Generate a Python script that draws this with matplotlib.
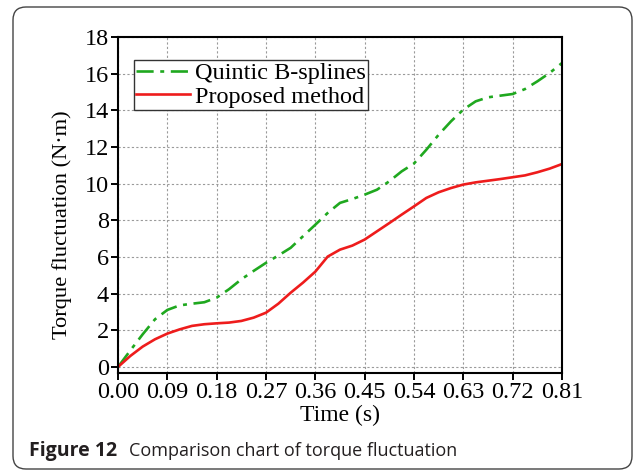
import matplotlib
matplotlib.use('Agg')
import matplotlib.pyplot as plt
from matplotlib.patches import FancyBboxPatch

# values (every 0.0225 s)
time = [0, 0.0225, 0.045, 0.0675, 0.09, 0.1125, 0.135, 0.1575, 0.18, 0.2025,
        0.225, 0.2475, 0.27, 0.2925, 0.315, 0.3375, 0.36, 0.3825, 0.405, 0.4275,
        0.45, 0.4725, 0.495, 0.5175, 0.54, 0.5625, 0.585, 0.6075, 0.63, 0.6525,
        0.675, 0.6975, 0.72, 0.7425, 0.765, 0.7875, 0.81]
quintic = [0, 0.9, 1.78, 2.6, 3.11, 3.36, 3.45, 3.53, 3.78, 4.24,
           4.78, 5.24, 5.68, 6.08, 6.5, 7.13, 7.76, 8.4, 8.95, 9.16,
           9.4, 9.67, 10.13, 10.67, 11.1, 11.85, 12.67, 13.4, 14.04, 14.49,
           14.71, 14.8, 14.89, 15.16, 15.58, 16.04, 16.58]
proposed = [0, 0.6, 1.11, 1.51, 1.82, 2.05, 2.24, 2.33, 2.38, 2.42,
            2.51, 2.69, 2.96, 3.45, 4.05, 4.6, 5.2, 6.02, 6.4, 6.62,
            6.95, 7.4, 7.85, 8.31, 8.76, 9.22, 9.53, 9.76, 9.95, 10.07,
            10.16, 10.25, 10.35, 10.45, 10.62, 10.82, 11.07]
xticks = [0.00, 0.09, 0.18, 0.27, 0.36, 0.45, 0.54, 0.63, 0.72, 0.81]
yticks = [0, 2, 4, 6, 8, 10, 12, 14, 16, 18]

W, H = 635, 471
fig = plt.figure(figsize=(W / 100, H / 100), dpi=100)
serif = 'Liberation Serif'

ax = fig.add_axes([118 / W, 1 - 373 / H, (562 - 118) / W, (373 - 37) / H])
ax.plot(time, quintic, color='#1fa81f', lw=1.9, ls=(0, (6.5, 2.5, 1.5, 2.5)),
        solid_capstyle='round', dash_capstyle='butt', label='Quintic B-splines')
ax.plot(time, proposed, color='#ee1c1c', lw=1.9, solid_joinstyle='round',
        label='Proposed method')

ax.set_xlim(0, 0.81)
ax.set_ylim(-0.33, 18)
ax.set_xticks(xticks)
ax.set_xticklabels(['%.2f' % t for t in xticks])
ax.set_yticks(yticks)
ax.grid(True, color='#9a9a9a', ls=(0, (2, 2)), lw=0.8)
ax.tick_params(direction='out', length=5, width=1.4, labelsize=17.5, pad=1.5)
for lab in ax.get_xticklabels() + ax.get_yticklabels():
    lab.set_fontfamily(serif)
for s in ax.spines.values():
    s.set_linewidth(1.5)

ax.set_xlabel('Time (s)', fontsize=17, family=serif)
ax.xaxis.set_label_coords(0.5, -0.095)
ax.set_ylabel('Torque fluctuation (N\u00b7m)', fontsize=16.2, family=serif)
ax.yaxis.set_label_coords(-0.103, 0.44)

leg = ax.legend(loc='upper left', bbox_to_anchor=(16 / 444, 1 - 23 / 336),
                prop={'family': serif, 'size': 17.5}, handlelength=2.2,
                handletextpad=0.2, borderpad=0.1, labelspacing=0.05,
                borderaxespad=0, fancybox=False, framealpha=1)
leg.get_frame().set_edgecolor('#333333')
leg.get_frame().set_linewidth(1.0)

# rounded border around the figure panel
border = FancyBboxPatch((0.13, 0.02), 6.19, 4.62, boxstyle='round,pad=0,rounding_size=0.13',
                        transform=fig.dpi_scale_trans, fill=False,
                        edgecolor='#444444', lw=1.0)
fig.patches.append(border)

t1 = fig.text(29 / W, 1 - 451 / H, 'Figure 12', fontsize=14, weight='bold',
              family='Open Sans', va='center', ha='left', color='#231f20')
fig.canvas.draw()
bb = t1.get_window_extent()
fig.text((bb.x1 + 12) / W, 1 - 451 / H, 'Comparison chart of torque fluctuation',
         fontsize=13, family='Open Sans', va='center', ha='left', color='#231f20')

fig.savefig('out.png', dpi=100)
